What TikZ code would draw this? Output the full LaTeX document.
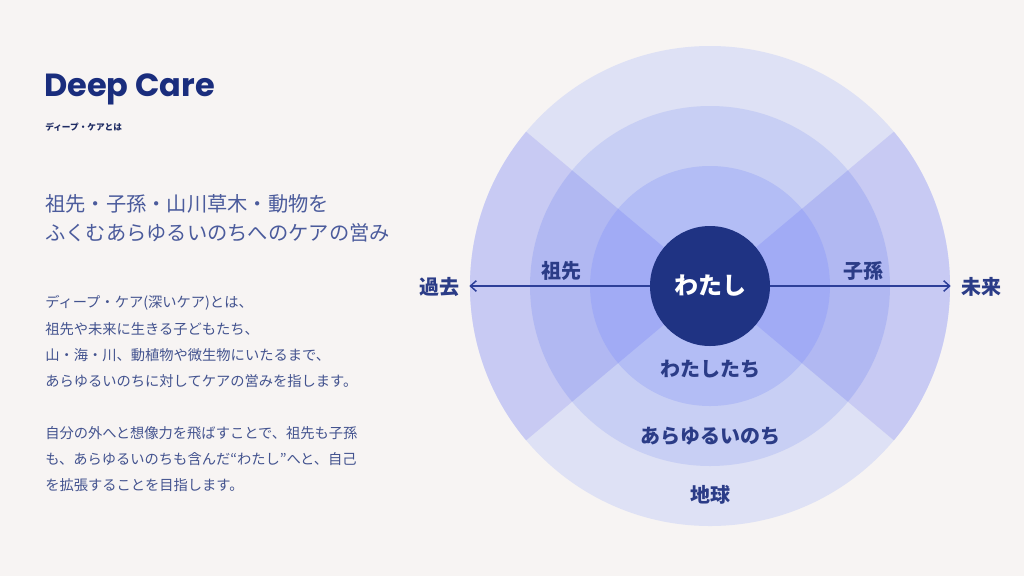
\documentclass[tikz,border=0pt]{standalone}
\usepackage{fontspec}
\setmainfont{Poppins}
\newfontfamily\jp{Noto Sans CJK JP}
\usetikzlibrary{arrows.meta}
\definecolor{bg}{HTML}{F7F4F3}
\definecolor{titlec}{HTML}{1A2D7D}
\definecolor{subc}{HTML}{1E2B63}
\definecolor{headc}{HTML}{4B5B9C}
\definecolor{bodyc}{HTML}{43538F}
\definecolor{labc}{HTML}{2B3C87}
\definecolor{arrc}{HTML}{2D3F99}
\definecolor{cone}{HTML}{DEE1F5}
\definecolor{wone}{HTML}{C8CAF3}
\definecolor{ctwo}{HTML}{C8CFF4}
\definecolor{wtwo}{HTML}{B1B8F2}
\definecolor{cthree}{HTML}{B3BDF5}
\definecolor{wthree}{HTML}{A1ABF5}
\definecolor{core}{HTML}{1F3383}
\newcommand{\myfs}[1]{\fontsize{#1}{#1}\selectfont}
\begin{document}
\begin{tikzpicture}[x=0.75pt,y=-0.75pt,
  lab/.style={font=\jp\bfseries\myfs{15pt}, text=labc, inner sep=0pt, anchor=base},
  body/.style={font=\jp\myfs{10.7pt}, text=bodyc, inner sep=0pt, anchor=base west},
  head/.style={font=\jp\myfs{15.2pt}, text=headc, inner sep=0pt, anchor=base west},
  arr/.style={draw=arrc, line width=1.1pt, -{Straight Barb[length=4.5pt,width=8pt]}}
]
\useasboundingbox[fill=bg] (0,0) rectangle (1024,576);

% rings and wedges
\coordinate (c) at (710,286);
\fill[cone] (c) circle[radius=240];
\fill[wone] (c) -- ++(140:240) arc[start angle=140,end angle=220,radius=240] -- cycle;
\fill[wone] (c) -- ++(-40:240) arc[start angle=-40,end angle=40,radius=240] -- cycle;
\fill[ctwo] (c) circle[radius=180];
\fill[wtwo] (c) -- ++(140:180) arc[start angle=140,end angle=220,radius=180] -- cycle;
\fill[wtwo] (c) -- ++(-40:180) arc[start angle=-40,end angle=40,radius=180] -- cycle;
\fill[cthree] (c) circle[radius=120];
\fill[wthree] (c) -- ++(140:120) arc[start angle=140,end angle=220,radius=120] -- cycle;
\fill[wthree] (c) -- ++(-40:120) arc[start angle=-40,end angle=40,radius=120] -- cycle;

\node[circle, fill=core, minimum size=90pt, inner sep=0pt, text=white,
      font=\jp\bfseries\myfs{18pt}] (wata) at (c) {わたし};

% labels
\node[lab] (kako) at (439,294.6) {過去};
\node[lab] (mirai) at (981,294.6) {未来};
\node[lab] (sosen) at (561,278.6) {祖先};
\node[lab] (shison) at (863,278.6) {子孫};
\node[lab] (tachi) at (710,376) {わたしたち};
\node[lab] (inochi) at (710,443.6) {あらゆるいのち};
\node[lab] (chikyu) at (710,502.6) {地球};

\draw[arr, shorten >=7.5pt] (wata.west) -- (wata.west -| kako.east);
\draw[arr, shorten >=7.5pt] (wata.east) -- (wata.east -| mirai.west);

% left text
\node[font=\bfseries\myfs{24pt}, text=titlec, inner sep=0pt, anchor=base west] (title) at (44,96) {Deep Care};
\node[font=\jp\bfseries\myfs{6.5pt}, text=subc, inner sep=0pt, anchor=base west] (sub) at (45,130) {ディープ・ケアとは};
\node[head] (h1) at (45,211) {祖先・子孫・山川草木・動物を};
\node[head] (h2) at (45,240) {ふくむあらゆるいのちへのケアの営み};

\node[body] (b1) at (45,307) {ディープ・ケア(深いケア)とは、};
\node[body] (b2) at (45,334) {祖先や未来に生きる子どもたち、};
\node[body] (b3) at (45,360) {山・海・川、動植物や微生物にいたるまで、};
\node[body] (b4) at (45,386) {あらゆるいのちに対してケアの営みを指します。};
\node[body] (b5) at (45,438) {自分の外へと想像力を飛ばすことで、祖先も子孫};
\node[body] (b6) at (45,464) {も、あらゆるいのちも含んだ“わたし”へと、自己};
\node[body] (b7) at (45,490) {を拡張することを目指します。};
\end{tikzpicture}
\end{document}
